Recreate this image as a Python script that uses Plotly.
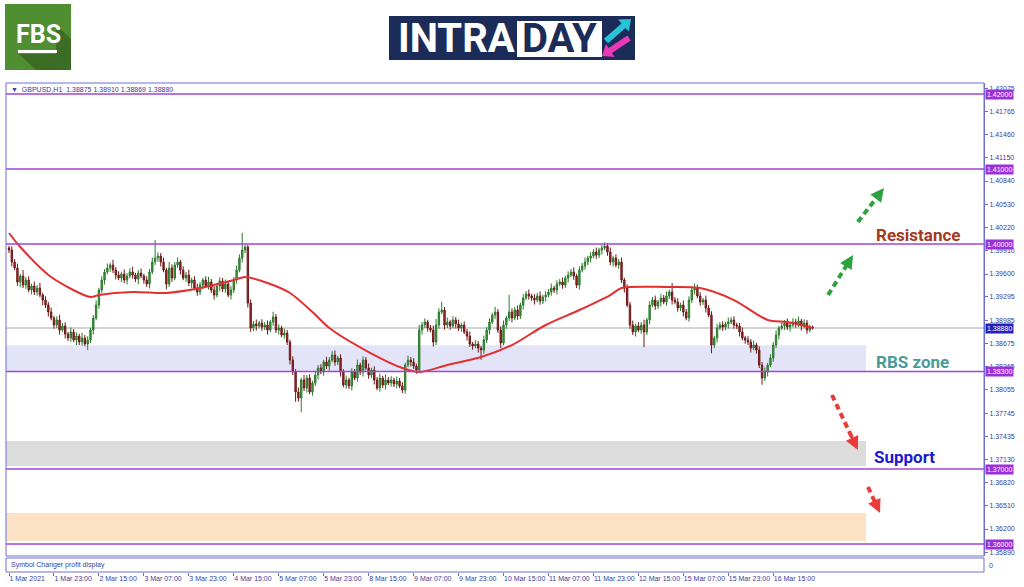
import plotly.graph_objects as go

# ---------------- data ----------------
symbol_header = "GBPUSD,H1  1.38875 1.38910 1.38869 1.38880"

x_tick_bars = [0, 16, 32, 48, 64, 80, 96, 112, 128, 144, 160, 176, 192, 208, 224, 240, 256, 272]
x_tick_labels = ["1 Mar 2021", "1 Mar 23:00", "2 Mar 15:00", "3 Mar 07:00", "3 Mar 23:00",
                 "4 Mar 15:00", "5 Mar 07:00", "5 Mar 23:00", "8 Mar 15:00", "9 Mar 07:00",
                 "9 Mar 23:00", "10 Mar 15:00", "11 Mar 07:00", "11 Mar 23:00", "12 Mar 15:00",
                 "15 Mar 07:00", "15 Mar 23:00", "16 Mar 15:00"]

y_tick_values = [1.42075, 1.41765, 1.41460, 1.41150, 1.40840, 1.40530, 1.40220, 1.39910,
                 1.39600, 1.39295, 1.38985, 1.38675, 1.38365, 1.38055, 1.37745, 1.37435,
                 1.37130, 1.36820, 1.36510, 1.36200, 1.35890]

level_prices = [1.42000, 1.41000, 1.40000, 1.38300, 1.37000, 1.36000]
current_price = 1.38880

rbs_zone = [1.38300, 1.38650]
support_zone = [1.37040, 1.37373]
lower_zone = [1.36040, 1.36413]
zone_end_bar = 305

open_first = 1.39947
closes = [
    1.39920, 1.39760, 1.39680, 1.39493, 1.39573, 1.39453, 1.39520, 1.39387, 1.39440, 1.39360,
    1.39413, 1.39320, 1.39253, 1.39187, 1.39093, 1.39013, 1.38920, 1.38987, 1.38853, 1.38907,
    1.38800, 1.38747, 1.38827, 1.38720, 1.38773, 1.38693, 1.38747, 1.38667, 1.38720, 1.38853,
    1.39013, 1.39187, 1.39387, 1.39520, 1.39627, 1.39680, 1.39720, 1.39653, 1.39587, 1.39547,
    1.39600, 1.39520, 1.39573, 1.39627, 1.39587, 1.39533, 1.39613, 1.39573, 1.39520, 1.39467,
    1.39627, 1.39760, 1.39813, 1.39840, 1.39760, 1.39653, 1.39467, 1.39680, 1.39547, 1.39720,
    1.39760, 1.39653, 1.39547, 1.39587, 1.39480, 1.39520, 1.39413, 1.39360, 1.39453, 1.39520,
    1.39440, 1.39493, 1.39387, 1.39320, 1.39440, 1.39507, 1.39400, 1.39467, 1.39320, 1.39387,
    1.39520, 1.39653, 1.39813, 1.39920, 1.39960, 1.39213, 1.38880, 1.38933, 1.38907, 1.38947,
    1.38893, 1.38920, 1.38853, 1.38960, 1.39027, 1.38853, 1.38880, 1.38787, 1.38813, 1.38693,
    1.38453, 1.38293, 1.38027, 1.37947, 1.38187, 1.38080, 1.38213, 1.38027, 1.38147, 1.38253,
    1.38347, 1.38293, 1.38427, 1.38373, 1.38453, 1.38520, 1.38427, 1.38480, 1.38293, 1.38120,
    1.38187, 1.38107, 1.38293, 1.38213, 1.38387, 1.38293, 1.38453, 1.38347, 1.38253, 1.38320,
    1.38187, 1.38080, 1.38213, 1.38120, 1.38187, 1.38147, 1.38187, 1.38133, 1.38173, 1.38107,
    1.38053, 1.38387, 1.38453, 1.38427, 1.38373, 1.38320, 1.38853, 1.38920, 1.38960, 1.38880,
    1.38853, 1.38693, 1.38920, 1.39093, 1.39120, 1.38920, 1.38960, 1.38907, 1.38987, 1.38933,
    1.38880, 1.38920, 1.38827, 1.38773, 1.38667, 1.38640, 1.38667, 1.38613, 1.38587, 1.38720,
    1.38853, 1.38960, 1.39053, 1.39093, 1.38853, 1.38680, 1.38920, 1.39013, 1.39093, 1.39013,
    1.39120, 1.39040, 1.39187, 1.39280, 1.39333, 1.39307, 1.39280, 1.39253, 1.39307, 1.39240,
    1.39293, 1.39320, 1.39360, 1.39413, 1.39387, 1.39467, 1.39493, 1.39453, 1.39547, 1.39587,
    1.39627, 1.39573, 1.39453, 1.39653, 1.39707, 1.39760, 1.39813, 1.39840, 1.39893, 1.39853,
    1.39920, 1.39947, 1.39973, 1.39893, 1.39760, 1.39813, 1.39720, 1.39760, 1.39520, 1.39413,
    1.39187, 1.38920, 1.38827, 1.38907, 1.38853, 1.38920, 1.38827, 1.38987, 1.39187, 1.39253,
    1.39173, 1.39227, 1.39280, 1.39227, 1.39307, 1.39360, 1.39253, 1.39227, 1.39147, 1.39187,
    1.39093, 1.39013, 1.39253, 1.39387, 1.39413, 1.39307, 1.39227, 1.39253, 1.39147, 1.39053,
    1.38653, 1.38747, 1.38880, 1.38920, 1.38893, 1.38933, 1.38960, 1.38987, 1.38920, 1.38907,
    1.38827, 1.38747, 1.38720, 1.38693, 1.38613, 1.38653, 1.38587, 1.38387, 1.38213, 1.38293,
    1.38387, 1.38480, 1.38653, 1.38787, 1.38880, 1.38907, 1.38947, 1.38893, 1.38920, 1.38960,
    1.38933, 1.38973, 1.38907, 1.38947, 1.38853, 1.38893, 1.38880,
]

# wick lengths above / below the candle body, in pips
wick_up = [
    3, 5, 4, 6, 3, 8, 4, 5, 3, 6, 4, 7, 3, 5, 4, 6, 3, 5, 7, 4,
    5, 3, 6, 4, 5, 3, 7, 4, 5, 3, 4, 6, 3, 5, 4, 6, 3, 7, 4, 5,
    3, 6, 4, 5, 7, 3, 4, 6, 3, 5, 4, 6, 24, 5, 4, 6, 3, 8, 5, 4,
    6, 3, 5, 4, 7, 3, 5, 6, 4, 3, 5, 7, 4, 6, 3, 5, 4, 6, 3, 5,
    4, 6, 5, 23, 4, 3, 5, 4, 6, 3, 5, 4, 6, 3, 7, 4, 5, 3, 6, 4,
    3, 5, 4, 6, 3, 7, 4, 5, 3, 6, 4, 5, 3, 7, 4, 5, 6, 3, 5, 4,
    6, 3, 5, 4, 7, 3, 5, 4, 6, 3, 5, 4, 6, 3, 7, 4, 5, 3, 6, 4,
    5, 3, 6, 4, 5, 3, 7, 4, 5, 3, 4, 6, 8, 5, 11, 4, 6, 3, 5, 4,
    6, 3, 5, 4, 6, 3, 5, 4, 3, 6, 4, 5, 3, 7, 4, 5, 6, 3, 23, 5,
    4, 6, 3, 5, 4, 6, 3, 5, 4, 6, 3, 5, 4, 6, 3, 5, 4, 6, 3, 5,
    4, 6, 3, 5, 4, 6, 3, 5, 4, 6, 3, 5, 5, 4, 6, 3, 5, 4, 6, 3,
    5, 4, 6, 3, 5, 4, 7, 3, 5, 4, 6, 3, 5, 4, 6, 3, 12, 4, 5, 3,
    6, 4, 5, 3, 6, 4, 5, 3, 6, 4, 5, 3, 6, 4, 5, 3, 6, 4, 5, 3,
    4, 6, 3, 5, 4, 6, 3, 5, 4, 6, 3, 5, 4, 6, 3, 5, 4, 6, 3, 5,
    4, 6, 3, 5, 4, 3, 2,
]
wick_dn = [
    4, 6, 3, 5, 7, 4, 5, 3, 6, 4, 5, 3, 7, 4, 6, 3, 5, 4, 6, 3,
    6, 4, 5, 3, 7, 4, 5, 3, 8, 4, 6, 3, 5, 4, 6, 3, 5, 4, 6, 3,
    5, 4, 6, 3, 5, 4, 7, 3, 5, 4, 6, 3, 4, 5, 6, 3, 7, 4, 5, 3,
    4, 6, 3, 5, 4, 7, 3, 5, 4, 6, 3, 5, 4, 6, 3, 7, 4, 5, 3, 6,
    4, 5, 3, 6, 4, 6, 5, 4, 6, 3, 5, 4, 6, 3, 5, 4, 6, 3, 5, 4,
    6, 4, 13, 5, 19, 4, 6, 3, 5, 4, 6, 3, 5, 4, 6, 3, 5, 4, 6, 3,
    5, 4, 6, 3, 5, 4, 6, 3, 5, 4, 6, 3, 5, 4, 6, 3, 5, 4, 6, 3,
    4, 5, 3, 6, 4, 5, 3, 6, 4, 5, 3, 6, 4, 5, 3, 6, 4, 5, 3, 6,
    4, 5, 3, 6, 4, 5, 3, 6, 13, 5, 4, 6, 3, 5, 4, 7, 3, 5, 4, 6,
    3, 5, 4, 6, 3, 5, 4, 6, 3, 5, 4, 6, 3, 5, 4, 6, 3, 5, 4, 6,
    3, 5, 4, 6, 3, 5, 4, 6, 3, 5, 4, 6, 3, 5, 4, 6, 3, 5, 4, 6,
    3, 5, 4, 6, 3, 5, 20, 4, 6, 3, 5, 4, 6, 3, 5, 4, 6, 3, 5, 4,
    6, 3, 5, 4, 6, 3, 5, 4, 6, 3, 11, 4, 6, 3, 5, 4, 6, 3, 5, 4,
    6, 3, 5, 4, 6, 3, 5, 4, 9, 4, 6, 3, 5, 4, 6, 3, 5, 4, 6, 3,
    5, 4, 6, 3, 5, 3, 2,
]

# moving average at selected bars
ma_bars = [0, 4, 15, 29, 32, 44, 56, 68, 80, 84, 92, 100, 108, 114, 128, 140, 146, 156,
           168, 179, 191, 203, 214, 218, 234, 246, 258, 270, 277, 286]
ma_values = [1.40147, 1.39960, 1.39560, 1.39293, 1.39320, 1.39360, 1.39347, 1.39413, 1.39520,
             1.39560, 1.39480, 1.39347, 1.39093, 1.38880, 1.38560, 1.38347, 1.38293, 1.38387,
             1.38493, 1.38653, 1.38920, 1.39120, 1.39320, 1.39413, 1.39427, 1.39413, 1.39253,
             1.38987, 1.38960, 1.38880]

# text notes: (text, bar, price, colour)
notes = [("Resistance", 308.0, 1.40120, "#a33a1c"),
         ("RBS zone", 307.7, 1.38427, "#4a9a96"),
         ("Support", 307.3, 1.37160, "#1a1acd")]

# dashed arrows: (bar0, price0, bar1, price1, colour)
arrows = [(291.5, 1.39320, 300.4, 1.39853, "#2ea23f"),
          (302.1, 1.40293, 311.4, 1.40747, "#2ea23f"),
          (292.9, 1.37987, 302.1, 1.37253, "#ea3a3a"),
          (305.7, 1.36760, 310.0, 1.36413, "#ea3a3a")]

# ---------------- figure ----------------
n = min(len(closes), len(wick_up), len(wick_dn))
bars = list(range(n))
opens = [open_first] + closes[:n - 1]
highs = [max(opens[i], closes[i]) + wick_up[i] * 0.0001 for i in range(n)]
lows = [min(opens[i], closes[i]) - wick_dn[i] * 0.0001 for i in range(n)]

FRAME = "#6e6ed2"
TXT = "#3d3d99"
LEVEL = "#a045d8"
BOXC = "#9a30d8"
FONT = "Liberation Sans"

W, H = 1024, 587
ML, MR, MT, MB = 6, 40, 83, 15
PW, PH = W - ML - MR, H - MT - MB


def px(xp):
    return (xp - ML) / PW


def py(yp):
    return (H - MB - yp) / PH


main_dom = [(H - MB - 556) / PH, 1.0]
sub_dom = [0.0, (H - MB - 558) / PH]
x_range = [-1.07, 347.0]
y_range = [1.35840, 1.42147]

fig = go.Figure()

fig.add_trace(go.Candlestick(
    x=bars, open=opens, high=highs, low=lows, close=closes[:n],
    increasing=dict(line=dict(color="#2c7a2c", width=1), fillcolor="#3e9e3e"),
    decreasing=dict(line=dict(color="#6e1818", width=1), fillcolor="#a42828"),
    whiskerwidth=0, hoverinfo="skip", xaxis="x", yaxis="y",
))
fig.add_trace(go.Scatter(
    x=ma_bars, y=ma_values, mode="lines",
    line=dict(color="#e23030", width=2, shape="spline", smoothing=0.8),
    hoverinfo="skip", xaxis="x", yaxis="y",
))
# empty sub panel ("Symbol Changer profit display")
fig.add_trace(go.Scatter(x=[None], y=[None], mode="markers", hoverinfo="skip",
                         xaxis="x", yaxis="y2", showlegend=False))

shapes = []
# zones
for z, col in [(rbs_zone, "#e4e4f8"), (support_zone, "#dcdcdc"), (lower_zone, "#fde2c6")]:
    shapes.append(dict(type="rect", xref="x", yref="y", x0=x_range[0], x1=zone_end_bar,
                       y0=z[0], y1=z[1], fillcolor=col, line=dict(width=0), layer="below"))
# current price line
shapes.append(dict(type="line", xref="x domain", yref="y", x0=0, x1=1, y0=current_price, y1=current_price,
                   line=dict(color="#a8a8a8", width=1), layer="below"))
# levels
for lv in level_prices:
    shapes.append(dict(type="line", xref="x domain", yref="y", x0=0, x1=1, y0=lv, y1=lv,
                       line=dict(color=LEVEL, width=1.6)))
# frames
shapes.append(dict(type="rect", xref="x domain", yref="y domain", x0=0, x1=1, y0=0, y1=1,
                   line=dict(color=FRAME, width=1)))
shapes.append(dict(type="rect", xref="x domain", yref="y2 domain", x0=0, x1=1, y0=0, y1=1,
                   line=dict(color=FRAME, width=1)))
# dashed arrows shafts
for b0, p0, b1, p1, col in arrows:
    shapes.append(dict(type="line", xref="x", yref="y", x0=b0, y0=p0,
                       x1=b0 + (b1 - b0) * 0.8, y1=p0 + (p1 - p0) * 0.8,
                       line=dict(color=col, width=4, dash="6px,4px")))

# FBS logo
shapes.append(dict(type="rect", xref="paper", yref="paper", x0=px(5), x1=px(71), y0=py(70), y1=py(4),
                   fillcolor="#4f8f32", line=dict(width=0)))
shadow = [(56, 24), (71, 39), (71, 70), (36, 70), (19, 54), (56, 54)]
shapes.append(dict(type="path", xref="paper", yref="paper",
                   path="M " + " L ".join(f"{px(a):.5f},{py(b):.5f}" for a, b in shadow) + " Z",
                   fillcolor="#3b6d24", line=dict(width=0)))
shapes.append(dict(type="rect", xref="paper", yref="paper", x0=px(18), x1=px(57), y0=py(53), y1=py(50),
                   fillcolor="white", line=dict(width=0)))
# INTRADAY logo
shapes.append(dict(type="rect", xref="paper", yref="paper", x0=px(389), x1=px(635), y0=py(60), y1=py(16),
                   fillcolor="#1c2c58", line=dict(width=0)))
shapes.append(dict(type="rect", xref="paper", yref="paper", x0=px(517), x1=px(602), y0=py(57), y1=py(21),
                   fillcolor="white", line=dict(width=0)))
cyan = [(604, 38.8), (621.5, 23.4), (618.2, 19.6), (631, 19), (628.8, 31.6), (625.5, 27.9), (608, 43.3)]
mag = [(627.4, 35.5), (608.7, 48), (605.9, 43.9), (602, 56), (614.7, 57.1), (612, 53), (630.7, 40.5)]
for pts, col in [(cyan, "#27c3d9"), (mag, "#e83ab8")]:
    shapes.append(dict(type="path", xref="paper", yref="paper",
                       path="M " + " L ".join(f"{px(a):.5f},{py(b):.5f}" for a, b in pts) + " Z",
                       fillcolor=col, line=dict(width=0)))

annotations = []
# level boxes
for lv in level_prices:
    annotations.append(dict(xref="x domain", yref="y", x=1, y=lv, xanchor="left", yanchor="middle",
                            xshift=1, text=f"{lv:.5f}", showarrow=False, bgcolor=BOXC,
                            font=dict(family=FONT, size=7, color="white"), borderpad=1))
annotations.append(dict(xref="x domain", yref="y", x=1, y=current_price, xanchor="left", yanchor="middle",
                        xshift=1, text=f"{current_price:.5f}", showarrow=False, bgcolor="#2222bb",
                        font=dict(family=FONT, size=7, color="white"), borderpad=1))
# header and sub panel text
annotations.append(dict(xref="x domain", yref="y domain", x=0, y=1, xanchor="left", yanchor="top",
                        xshift=3, yshift=-1, text="▼  " + symbol_header, showarrow=False,
                        font=dict(family=FONT, size=7, color=TXT)))
annotations.append(dict(xref="x domain", yref="y2 domain", x=0, y=0.5, xanchor="left", yanchor="middle",
                        xshift=3, text="Symbol Changer profit display", showarrow=False,
                        font=dict(family=FONT, size=7, color=TXT)))
annotations.append(dict(xref="x domain", yref="y2 domain", x=1, y=0.5, xanchor="left", yanchor="middle",
                        xshift=3, text="0", showarrow=False, font=dict(family=FONT, size=7, color=TXT)))
# notes
for t, b, p, col in notes:
    annotations.append(dict(xref="x", yref="y", x=b, y=p, text=f"<b>{t}</b>", showarrow=False,
                            xanchor="left", yanchor="middle",
                            font=dict(family="Roboto", size=17, color=col)))
# arrow heads
for b0, p0, b1, p1, col in arrows:
    annotations.append(dict(xref="x", yref="y", axref="x", ayref="y", x=b1, y=p1,
                            ax=b0 + (b1 - b0) * 0.72, ay=p0 + (p1 - p0) * 0.72, text="",
                            showarrow=True, arrowhead=2, arrowsize=0.9, arrowwidth=3, arrowcolor=col,
                            standoff=0, startstandoff=0))
# logo texts
annotations.append(dict(xref="paper", yref="paper", x=px(38), y=py(34), text="<b>FBS</b>", showarrow=False,
                        xanchor="center", yanchor="middle", font=dict(family="Roboto", size=25, color="white")))
annotations.append(dict(xref="paper", yref="paper", x=px(456), y=py(39), text="<b>INTRA</b>", showarrow=False,
                        xanchor="center", yanchor="middle", font=dict(family="Roboto", size=40, color="white")))
annotations.append(dict(xref="paper", yref="paper", x=px(559), y=py(39), text="<b>DAY</b>", showarrow=False,
                        xanchor="center", yanchor="middle", font=dict(family="Roboto", size=40, color="#1c2c58")))

fig.update_layout(
    width=W, height=H, margin=dict(l=ML, r=MR, t=MT, b=MB),
    paper_bgcolor="white", plot_bgcolor="white", showlegend=False,
    shapes=shapes, annotations=annotations,
    xaxis=dict(range=x_range, anchor="y2", rangeslider=dict(visible=False), showgrid=False, zeroline=False,
               tickmode="array", tickvals=x_tick_bars, ticktext=x_tick_labels, ticks="outside", ticklen=3,
               tickcolor=FRAME, ticklabelposition="outside right", tickangle=0,
               tickfont=dict(family=FONT, size=7, color=TXT), showline=False, automargin=False),
    yaxis=dict(domain=main_dom, range=y_range, side="right", anchor="x", showgrid=False, zeroline=False,
               tickmode="array", tickvals=y_tick_values, ticktext=[f"{v:.5f}" for v in y_tick_values],
               ticks="outside", ticklen=3, tickcolor=FRAME, showline=True, linecolor=FRAME, linewidth=1,
               tickfont=dict(family=FONT, size=7, color=TXT), automargin=False),
    yaxis2=dict(domain=sub_dom, range=[0, 1], anchor="x", showgrid=False, zeroline=False,
                showticklabels=False, ticks=""),
)

fig.write_html("out.html", config={"displayModeBar": False},
               post_script="document.body.style.margin='0';document.body.style.overflow='hidden';")
